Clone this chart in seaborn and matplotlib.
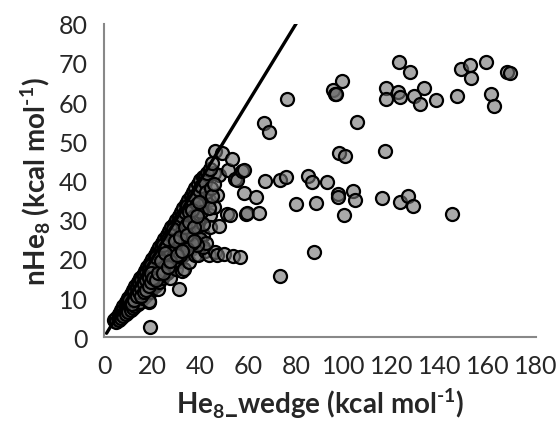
import matplotlib
matplotlib.use("Agg")
import matplotlib.pyplot as plt
import seaborn as sns
import pandas as pd

# dense cluster along the diagonal (He8_wedge, nHe8)
cluster = [
    (4, 4.5), (5, 5), (5, 4), (6, 6), (6, 5), (6, 4.5), (7, 7), (7, 6), (7, 5),
    (8, 8), (8, 7), (8, 6), (8, 5.5), (9, 9), (9, 8), (9, 7), (9, 6),
    (10, 10), (10, 9), (10, 8), (10, 7), (10, 6.5),
    (11, 11), (11, 10), (11, 9), (11, 8), (11, 7),
    (12, 12), (12, 11), (12, 10), (12, 9), (12, 8), (12, 7.5),
    (13, 13), (13, 12), (13, 11), (13, 10), (13, 9), (13, 8),
    (14, 14), (14, 13), (14, 12), (14, 11), (14, 10), (14, 9), (14, 8.5),
    (15, 15), (15, 14), (15, 13), (15, 12), (15, 11), (15, 10), (15, 9),
    (16, 16), (16, 15), (16, 14), (16, 13), (16, 12), (16, 11), (16, 10),
    (17, 17), (17, 16), (17, 15), (17, 13.5), (17, 12), (17, 10.5),
    (18, 18), (18, 17), (18, 15.5), (18, 14), (18, 12.5), (18, 11), (18.5, 8.9),
    (19, 19), (19, 18), (19, 16), (19, 14.5), (19, 13), (19, 11.5), (19.2, 2.7), (18.9, 9.3),
    (20, 20), (20, 19), (20, 17.5), (20, 16), (20, 14), (20, 12.5),
    (21, 21), (21, 20), (21, 18), (21, 16.5), (21, 15), (21, 13),
    (22, 22), (22, 21), (22, 19), (22, 17), (22, 15.5), (22, 13.5), (22.6, 12.3),
    (23, 23), (23, 21.5), (23, 20), (23, 18), (23, 16), (23, 14),
    (24, 24), (24, 23), (24, 21), (24, 19), (24, 17), (24, 15),
    (25, 25), (25, 23.5), (25, 22), (25, 20), (25, 18), (25, 16),
    (26, 26), (26, 24.5), (26, 22.5), (26, 20.5), (26, 18.5), (26, 16.5),
    (27, 27), (27, 25.5), (27, 23.5), (27, 21), (27, 19), (27, 17), (27.5, 15.1),
    (28, 28), (28, 26), (28, 24), (28, 22), (28, 20), (28, 18),
    (29, 29), (29, 27.5), (29, 25), (29, 23), (29, 21), (29, 19),
    (30, 30), (30, 28), (30, 26), (30, 24), (30, 22), (30, 20), (30, 17.5),
    (31, 31), (31, 29), (31, 27), (31, 24.5), (31, 22), (31, 19.5), (31, 12.2),
    (32, 32), (32, 30), (32, 28), (32, 25.5), (32, 23), (32, 20.5), (32.4, 17),
    (33, 33), (33, 31), (33, 29), (33, 26), (33, 23.5), (33, 21), (33.1, 17.4),
    (34, 34), (34, 32), (34, 30), (34, 27), (34, 24), (34, 21.5),
    (35, 35), (35, 33), (35, 30.5), (35, 28), (35, 25), (35, 22), (35.2, 19.2),
    (36, 36), (36, 34), (36, 31), (36, 28.5), (36, 25.5), (36, 22.5),
    (37, 37), (37, 34.5), (37, 32), (37, 29), (37, 26), (37, 23),
    (38, 38), (38, 35), (38, 32.5), (38, 30), (38, 26.5), (38, 21),
    (39, 39), (39, 36), (39, 33), (39, 30), (39, 27), (39.3, 20.9),
    (40, 40), (40, 37), (40, 34), (40, 23.7),
    (41, 41), (41.4, 37.9), (41.4, 26), (42.1, 22.1),
    (42.1, 40.9), (42, 35), (43.5, 35), (43.5, 20.9),
    (44.2, 31.1), (44.2, 28.1), (45.6, 41.8), (45.6, 33.3),
    (46.3, 47.4), (46.3, 21.7), (47, 36.2), (47, 20.9), (47.7, 41.4), (47.7, 28.4),
    (49.1, 46.9), (49.8, 21.3), (51.2, 31.5), (51.8, 42.6), (53.3, 45.6),
    (53.9, 20.7), (54.6, 40.5), (55.3, 40.1), (57.4, 42.5), (58.1, 42.6),
]

# more points packed inside the cluster
cluster_fill = [
    (20.5, 18.5), (21.5, 17), (22.5, 20), (23.5, 22.5), (23.5, 17), (24.5, 20),
    (25.5, 24), (25.5, 19), (26.5, 21.5), (27.5, 26), (27.5, 22), (28.5, 24.5),
    (28.5, 20.5), (29.5, 27), (29.5, 22), (30.5, 25), (30.5, 29), (31.5, 30),
    (31.5, 21), (32.5, 27), (32.5, 31), (33.5, 24.5), (33.5, 32), (34.5, 29),
    (34.5, 33.5), (35.5, 26.5), (35.5, 32), (36.5, 35), (36.5, 29.5), (37.5, 31),
    (37.5, 36), (38.5, 34), (38.5, 28), (39.5, 37.5), (39.5, 31.5), (40.5, 38.5),
    (40.5, 32), (41, 29), (42, 39.5), (42.5, 37), (43, 42), (43.5, 33), (44, 43),
    (44.5, 38), (45, 44.5), (45, 36), (46, 39), (40, 25), (41, 23), (42.5, 24),
    (38.5, 23.5), (36.5, 24), (34.5, 22.5),
    (10.5, 9.5), (11.5, 8.5), (12.5, 11.5), (12.5, 9.5), (13.5, 12.5), (13.5, 10.5),
    (14.5, 13.5), (14.5, 11.5), (15.5, 14.5), (15.5, 12.5), (15.5, 10.5),
    (16.5, 15.5), (16.5, 13.5), (16.5, 11.5), (17.5, 16.5), (17.5, 14.5), (17.5, 12),
    (18.5, 17.5), (18.5, 15), (18.5, 13), (19.5, 18.5), (19.5, 16.5), (19.5, 14),
    (20.5, 15), (21.5, 20.5), (21.5, 14.5), (22.5, 16.5), (23.5, 19.5), (24.5, 23.5),
    (24.5, 16.5), (25.5, 21.5), (26.5, 25), (26.5, 18), (27.5, 19.5), (28.5, 27.5),
    (29.5, 24.5), (30.5, 21), (31.5, 25.5), (32.5, 22), (33.5, 28), (34.5, 26),
    (35.5, 29.5), (36.5, 32.5), (37.5, 28), (38.5, 31), (39.5, 34.5), (37.5, 24.5),
]

# scattered points away from the diagonal
scattered = [
    (56.7, 20.4), (58.4, 36.9), (63.1, 35.8), (59.2, 31.5), (59.6, 31.8), (64.4, 31.7), (52.5, 31.1),
    (67.0, 39.8), (73.1, 40.0), (75.9, 40.9), (84.8, 41.2), (86.7, 39.7), (93.0, 39.7),
    (79.8, 34.1), (88.4, 34.3), (97.3, 36.5), (97.6, 35.7), (103.7, 37.3), (104.4, 35.1), (100.0, 31.1),
    (115.8, 35.6), (123.2, 34.4), (126.5, 36.0), (128.7, 33.5), (145.2, 31.5),
    (87.5, 21.7), (73.1, 15.6),
    (98.1, 47.1), (100.4, 46.2), (117.0, 47.4), (105.5, 55.0),
    (66.8, 54.6), (68.8, 52.5), (76.2, 60.7),
    (99.3, 65.5), (95.6, 63.2), (96.4, 62.2), (96.8, 62.0),
    (117.6, 63.7), (117.6, 60.9), (122.4, 62.7), (123.4, 61.4), (129.0, 61.5),
    (133.4, 63.6), (131.6, 59.5), (138.3, 60.6),
    (123.1, 70.3), (127.6, 67.7), (148.8, 68.5), (152.6, 69.6), (152.9, 66.2),
    (159.2, 70.3), (168.0, 67.7), (169.0, 67.4),
    (146.9, 61.5), (161.1, 62.0), (162.6, 59.0),
]

# y = x reference line
line_x = [1, 85]
line_y = [1, 85]

x_ticks = [0, 20, 40, 60, 80, 100, 120, 140, 160, 180]
y_ticks = [0, 10, 20, 30, 40, 50, 60, 70, 80]

df = pd.DataFrame(cluster + cluster_fill + scattered, columns=["wedge", "nhe8"])

sns.set_style("white")
plt.rcParams['font.family'] = ['Lato', 'DejaVu Sans']
plt.rcParams['mathtext.fontset'] = 'custom'
plt.rcParams['mathtext.rm'] = 'Lato:bold'
plt.rcParams['mathtext.bf'] = 'Lato:bold'

fig = plt.figure(figsize=(5.6, 4.27), dpi=100)
ax = fig.add_axes([0.186, 0.208, 0.771, 0.734])

sns.scatterplot(data=df, x="wedge", y="nhe8", ax=ax, s=88,
                color="#707070", edgecolor="black", linewidth=1.6, zorder=3)
ax.collections[0].set_facecolor((0.44, 0.44, 0.44, 0.6))
sns.lineplot(x=line_x, y=line_y, ax=ax, color="black", linewidth=2.4, zorder=4)

ax.set_xlim(0, 180)
ax.set_ylim(0, 80)
ax.set_xticks(x_ticks)
ax.set_yticks(y_ticks)
ax.tick_params(axis='both', labelsize=18, length=5, width=1.2,
               color='#888888', direction='out', pad=7)
for side in ['top', 'right']:
    ax.spines[side].set_visible(False)
for side in ['left', 'bottom']:
    ax.spines[side].set_color('#888888')
    ax.spines[side].set_linewidth(1.5)
ax.spines['left'].set_zorder(5)
ax.spines['bottom'].set_zorder(5)

ax.set_xlabel(r"He$_{8}$_wedge (kcal mol$^{\text{-1}}$)", fontsize=20,
              fontweight='bold', labelpad=6)
ax.set_ylabel(r"nHe$_{8}$ (kcal mol$^{\text{-1}}$)", fontsize=20,
              fontweight='bold', labelpad=4)

fig.savefig("out.png", dpi=100)
